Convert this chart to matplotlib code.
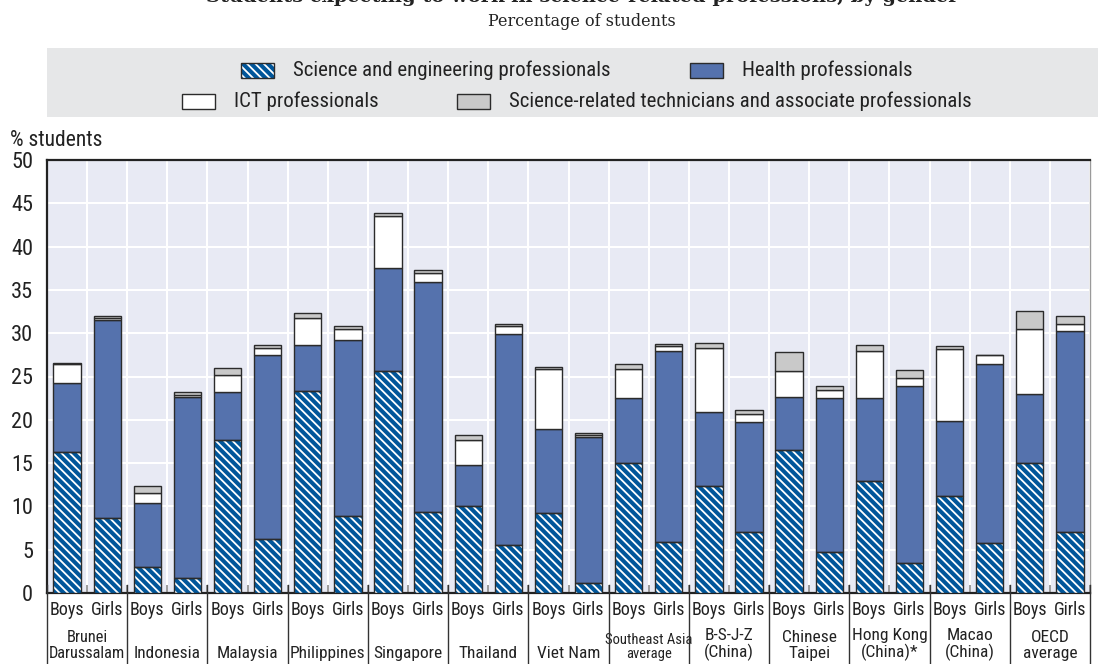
import matplotlib
matplotlib.use("Agg")
import matplotlib.pyplot as plt
from matplotlib import font_manager
from matplotlib.patches import Rectangle
from matplotlib.lines import Line2D
import numpy as np

# pick a narrow sans font if one is installed
names = {f.name for f in font_manager.fontManager.ttflist}
narrow = [f for f in ['Liberation Sans Narrow', 'Roboto Condensed', 'Open Sans Condensed',
                      'Arial Narrow', 'DejaVu Sans Condensed'] if f in names]
cond_file = font_manager.findfont(font_manager.FontProperties(family='DejaVu Sans',
                                                              stretch='condensed'))
if narrow:
    plt.rcParams['font.family'] = [narrow[0], 'DejaVu Sans']
    SCALE = 1.0
elif 'Condensed' in cond_file:
    plt.rcParams['font.family'] = ['DejaVu Sans']
    plt.rcParams['font.stretch'] = 'condensed'
    SCALE = 0.92
else:
    plt.rcParams['font.family'] = ['Liberation Sans', 'DejaVu Sans']
    SCALE = 0.88

# country / economy labels (two bars each: boys, girls)
countries = ['Brunei\nDarussalam', 'Indonesia', 'Malaysia', 'Philippines', 'Singapore',
             'Thailand', 'Viet Nam', 'Southeast Asia\naverage', 'B-S-J-Z\n(China)',
             'Chinese\nTaipei', 'Hong Kong\n(China)*', 'Macao\n(China)', 'OECD\naverage']
genders = ['Boys', 'Girls']

# segment values, % of students (boys, girls alternating)
sci_eng = [16.3, 8.7, 3.0, 1.7, 17.7, 6.2, 23.3, 8.9, 25.6, 9.4, 10.1, 5.6, 9.2, 1.2,
           15.0, 5.9, 12.3, 7.0, 16.5, 4.7, 12.9, 3.5, 11.2, 5.8, 15.0, 7.0]
health = [7.9, 22.8, 7.4, 20.9, 5.5, 21.3, 5.3, 20.3, 11.9, 26.5, 4.7, 24.3, 9.7, 16.8,
          7.5, 22.0, 8.6, 12.7, 6.1, 17.8, 9.6, 20.4, 8.7, 20.6, 8.0, 23.3]
ict = [2.2, 0.2, 1.1, 0.3, 2.0, 0.8, 3.2, 1.3, 6.0, 1.1, 2.9, 0.9, 7.0, 0.3,
       3.4, 0.6, 7.4, 1.0, 3.0, 0.9, 5.4, 0.9, 8.3, 1.1, 7.5, 0.8]
technicians = [0.2, 0.3, 0.8, 0.3, 0.8, 0.3, 0.5, 0.3, 0.4, 0.3, 0.6, 0.3, 0.2, 0.2,
               0.5, 0.2, 0.6, 0.4, 2.2, 0.5, 0.7, 1.0, 0.3, 0.0, 2.1, 0.9]

series_names = ['Science and engineering professionals', 'Health professionals',
                'ICT professionals', 'Science-related technicians and associate professionals']

DARK_BLUE = '#00569a'
MID_BLUE = '#5572ad'
GREY = '#c9c9c9'
EDGE = '#2b2b2b'
BG = '#e8eaf4'

W, H = 1098, 664
fig = plt.figure(figsize=(W / 100, H / 100), dpi=100)

# plot area in pixels: left 47, right 1090, top 160, bottom 593
ax = fig.add_axes([47 / W, (H - 593) / H, 1043 / W, 433 / H])
ax.set_facecolor(BG)

n = len(sci_eng)
x = np.arange(n)
bw = 0.68

plt.rcParams['hatch.linewidth'] = 1.3
s = np.array(sci_eng)
h = np.array(health)
c = np.array(ict)
t = np.array(technicians)

# hatched segment: white hatch on blue, then a dark outline on top
ax.bar(x, s, bw, color=DARK_BLUE, edgecolor='white', linewidth=0, hatch='\\\\\\\\', zorder=3)
ax.bar(x, s, bw, facecolor='none', edgecolor=EDGE, linewidth=1.0, zorder=4)
ax.bar(x, h, bw, bottom=s, color=MID_BLUE, edgecolor=EDGE, linewidth=1.0, zorder=3)
ax.bar(x, c, bw, bottom=s + h, color='white', edgecolor=EDGE, linewidth=1.0, zorder=3)
ax.bar(x, t, bw, bottom=s + h + c, color=GREY, edgecolor=EDGE, linewidth=1.0, zorder=3)

ax.set_xlim(-0.5, n - 0.5)
ax.set_ylim(0, 50)
ax.set_yticks(np.arange(0, 51, 5))
ax.tick_params(axis='y', length=0, pad=10, labelsize=16 * SCALE, labelcolor='#222222')
ax.set_xticks(np.arange(-0.5, n, 1.0))
ax.set_xticklabels([])
ax.tick_params(axis='x', direction='in', length=5.5, width=1.2, color='#8a8a8a')
ax.grid(True, color='white', linewidth=1.5, zorder=0)
ax.set_axisbelow(True)
for side in ['top', 'left', 'bottom']:
    ax.spines[side].set_color('#222222')
    ax.spines[side].set_linewidth(1.6)
ax.spines['right'].set_color('#9a9a9a')
ax.spines['right'].set_linewidth(1.0)

fig.text(10 / W, (H - 140) / H, '% students', fontsize=15.5 * SCALE, color='#222222', va='center')

# category labels below the axis
trans = ax.get_xaxis_transform()
for i in range(n):
    ax.text(x[i], -0.040, genders[i % 2], transform=trans, ha='center', va='center',
            fontsize=13 * SCALE, color='#222222')
for k, name in enumerate(countries):
    fs = 12.5
    if name.startswith('Southeast'):
        fs = 10.5
    elif name.startswith('Brunei'):
        fs = 11.8
    ax.text(2 * k + 0.5, -0.158, name, transform=trans, ha='center', va='bottom',
            fontsize=fs * SCALE, color='#222222', linespacing=1.08)
    ax.add_line(Line2D([2 * k - 0.5, 2 * k - 0.5], [0.018, -0.17], transform=trans,
                       color='#333333', linewidth=1.0, clip_on=False, zorder=5))
ax.add_line(Line2D([n - 0.5, n - 0.5], [0.018, -0.17], transform=trans,
                   color='#333333', linewidth=1.0, clip_on=False, zorder=5))

# legend panel
lax = fig.add_axes([47 / W, (H - 117) / H, (W - 47) / W, 69 / H])
lax.set_facecolor('#e6e7e8')
lax.set_xlim(0, W - 47)
lax.set_ylim(69, 0)
lax.set_xticks([])
lax.set_yticks([])
for sp in lax.spines.values():
    sp.set_visible(False)

legend_items = [
    (194, 22, DARK_BLUE, '\\\\\\\\', series_names[0]),
    (643, 22, MID_BLUE, None, series_names[1]),
    (135, 53, 'white', None, series_names[2]),
    (410, 53, GREY, None, series_names[3]),
]
for lx, ly, col, hatch, label in legend_items:
    if hatch:
        lax.add_patch(Rectangle((lx, ly - 7.5), 33, 15, facecolor=col, edgecolor='white',
                                linewidth=0, hatch=hatch))
        lax.add_patch(Rectangle((lx, ly - 7.5), 33, 15, facecolor='none', edgecolor=EDGE,
                                linewidth=1.0))
    else:
        lax.add_patch(Rectangle((lx, ly - 7.5), 33, 15, facecolor=col, edgecolor=EDGE,
                                linewidth=1.0))
    lax.text(lx + 52, ly, label, fontsize=15 * SCALE, va='center', ha='left', color='#222222')

# titles (the main title is cut off at the top edge in the original)
fig.text(582 / W, (H - 2) / H, 'Students expecting to work in science-related professions, by gender',
         family='DejaVu Serif', fontweight='bold', fontsize=14, ha='center', va='baseline',
         color='#222222', stretch='normal')
fig.text(582 / W, (H - 22) / H, 'Percentage of students', family='DejaVu Serif',
         fontsize=11.5, ha='center', va='center', color='#222222', stretch='normal')

fig.savefig('out.png', dpi=100)
